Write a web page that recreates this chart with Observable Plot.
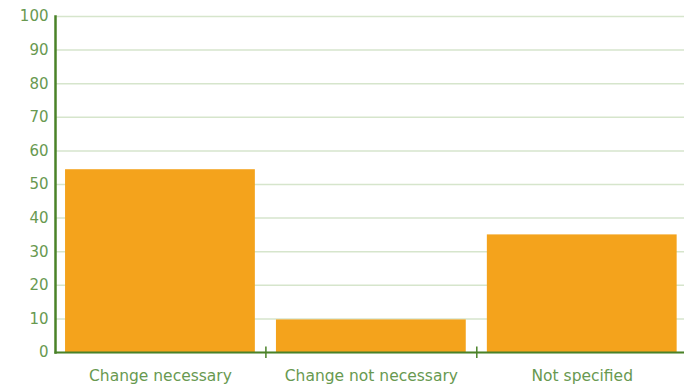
<!DOCTYPE html>
<html><head><meta charset="utf-8">
<script src="https://cdn.jsdelivr.net/npm/d3@7"></script>
<script src="https://cdn.jsdelivr.net/npm/@observablehq/plot@0.6"></script>
<style>body{margin:0;background:#fff}</style>
</head><body><div id="chart"></div>
<script>
const categories = ["Change necessary", "Change not necessary", "Not specified"];
const values = [54.4, 9.7, 35.0];
const yTicks = [0,10,20,30,40,50,60,70,80,90,100];

const data = categories.map((c, i) => ({category: c, value: values[i]}));
const W = 684, H = 386, mL = 55, x0 = 54.5, xEnd = 687.2;
const pInner = 0.1, pOuter = 0.05;
const step = (xEnd - x0) / (categories.length - pInner + 2 * pOuter);
const font = "'DejaVu Sans', sans-serif";
const axisGreen = "#4a8228";
const textGreen = "#689950";

const chart = Plot.plot({
  width: W, height: H,
  marginLeft: mL, marginRight: 0, marginTop: 16, marginBottom: 34,
  style: {fontFamily: font, fontSize: "15px", background: "#fff"},
  x: {domain: categories, range: [x0, xEnd], round: false, paddingInner: pInner, paddingOuter: pOuter, label: null},
  y: {domain: [0, 100], label: null},
  marks: [
    Plot.gridY(yTicks, {stroke: "#d6e5cc", strokeOpacity: 1, strokeWidth: 1.5}),
    Plot.barY(data, {x: "category", y: "value", fill: "#f4a31c"}),
    Plot.axisY(yTicks, {tickSize: 0, tickPadding: 7, fill: textGreen, fontSize: 15, fontFamily: font}),
    Plot.axisX({tickSize: 0, tickPadding: 17, fill: textGreen, fontSize: 15.5, fontFamily: font}),
    Plot.ruleX(categories, {x: d => d, dx: step / 2, y1: -1.8, y2: 1.6, stroke: axisGreen, strokeWidth: 1.5}),
    Plot.frame({anchor: "bottom", stroke: axisGreen, strokeWidth: 2}),
    Plot.frame({anchor: "left", stroke: axisGreen, strokeWidth: 2.5})
  ]
});
document.getElementById("chart").appendChild(chart);
</script></body></html>
